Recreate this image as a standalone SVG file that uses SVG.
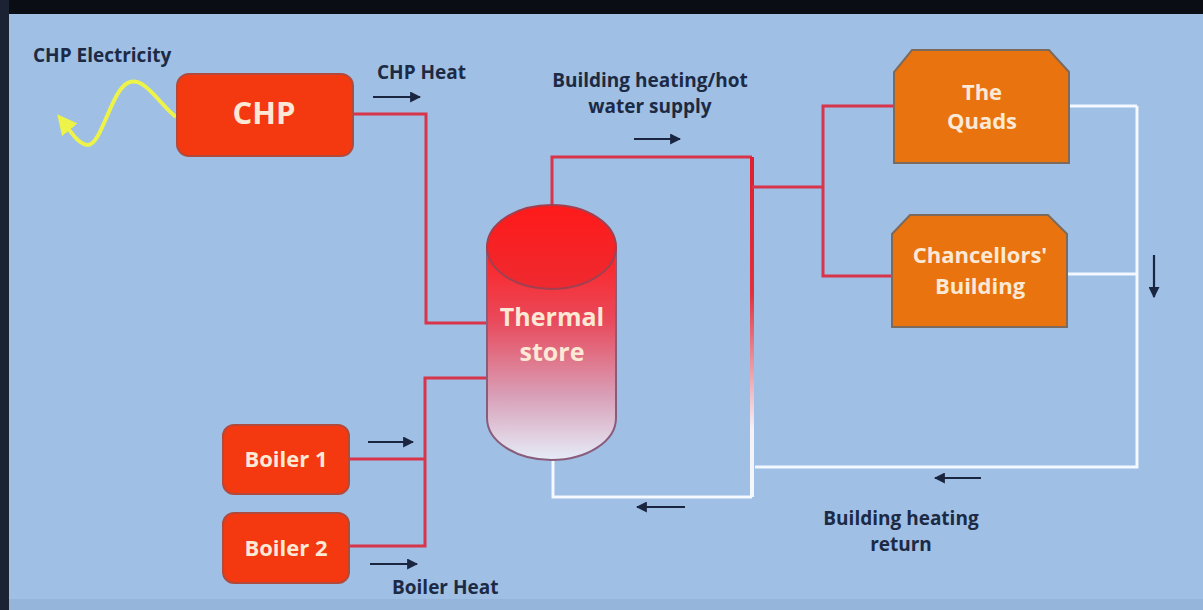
<svg xmlns="http://www.w3.org/2000/svg" width="1203" height="610" viewBox="0 0 1203 610">
<defs>
<style>
.lbl{font-family:"Open Sans","Liberation Sans",sans-serif;font-weight:bold;fill:#1c2a44;font-size:19px}
.ntx{font-family:"Open Sans","Liberation Sans",sans-serif;font-weight:bold;fill:#fbe9d6;text-anchor:middle}
.red{fill:none;stroke:#d8344a;stroke-width:3}
.wht{fill:none;stroke:#f4f8ff;stroke-width:3}
.arr{stroke:#1a2540;stroke-width:2.2;marker-end:url(#ah)}
.box{fill:#f4380f;stroke:#b24a3c;stroke-width:2}
.bld{fill:#e8730f;stroke:#7c6a5c;stroke-width:2}
</style>
<marker id="ah" viewBox="0 0 10 10" refX="9" refY="5" markerWidth="5" markerHeight="5" orient="auto" markerUnits="strokeWidth">
<path d="M0,0 L10,5 L0,10 z" fill="#1a2540"/>
</marker>
<marker id="yh" viewBox="0 0 10 10" refX="7" refY="5" markerWidth="5" markerHeight="5" orient="auto" markerUnits="strokeWidth">
<path d="M0,0 L10,5 L0,10 z" fill="#eef34a"/>
</marker>
<linearGradient id="tank" x1="0" y1="0" x2="0" y2="1">
<stop offset="0" stop-color="#ff2020"/>
<stop offset="0.35" stop-color="#e84a5c"/>
<stop offset="0.7" stop-color="#d8a0b8"/>
<stop offset="1" stop-color="#e6ecf8"/>
</linearGradient>
<linearGradient id="lid" x1="0" y1="0" x2="0" y2="1">
<stop offset="0" stop-color="#ff1a1a"/>
<stop offset="1" stop-color="#ee2a30"/>
</linearGradient>
<linearGradient id="vline" gradientUnits="userSpaceOnUse" x1="0" y1="157" x2="0" y2="497">
<stop offset="0" stop-color="#e0202e"/>
<stop offset="0.4" stop-color="#e0303e"/>
<stop offset="0.8" stop-color="#f4f0f8"/>
<stop offset="1" stop-color="#f4f8ff"/>
</linearGradient>
</defs>
<rect x="0" y="0" width="1203" height="610" fill="#9fbfe4"/>
<rect x="0" y="0" width="1203" height="14" fill="#0a0d14"/>
<rect x="0" y="0" width="9" height="610" fill="#1a2233"/>
<rect x="9" y="599" width="1194" height="11" fill="#96b5da"/>

<g id="connectors">
<path class="red" d="M353,114 H426 V323 H487"/>
<path class="red" d="M349,459 H425 M349,546 H425 V378 H487"/>
<path class="red" d="M552,205 V157 H752"/>
<path d="M752,157 V497" fill="none" stroke="url(#vline)" stroke-width="4"/>
<path class="red" d="M752,187 H823 M894,106 H823 V276 H892"/>
<path class="wht" d="M1069,106 H1137 M1067,274 H1137 M1137,106 V467 H755"/>
<path class="wht" d="M752,497 H553 V460"/>
<path d="M176,117 C160,105 146,78 130,82 C112,86 102,145 88,145 C78,145 70,130 61,119" fill="none" stroke="#eef34a" stroke-width="4" marker-end="url(#yh)"/>
<line class="arr" x1="373" y1="97" x2="420" y2="97"/>
<line class="arr" x1="634" y1="139" x2="680" y2="139"/>
<line class="arr" x1="368" y1="442" x2="413" y2="442"/>
<line class="arr" x1="370" y1="564" x2="417" y2="564"/>
<line class="arr" x1="685" y1="507" x2="637" y2="507"/>
<line class="arr" x1="981" y1="478" x2="935" y2="478"/>
<line class="arr" x1="1154" y1="255" x2="1154" y2="297"/>
</g>

<g id="labels">
<text class="lbl" x="33" y="62">CHP Electricity</text>
<text class="lbl" x="377" y="79">CHP Heat</text>
<text class="lbl" x="650" y="87" text-anchor="middle">Building heating/hot</text>
<text class="lbl" x="650" y="113" text-anchor="middle">water supply</text>
<text class="lbl" x="392" y="594">Boiler Heat</text>
<text class="lbl" x="901" y="525" text-anchor="middle">Building heating</text>
<text class="lbl" x="901" y="551" text-anchor="middle">return</text>
</g>

<g id="chp">
<rect class="box" x="177" y="74" width="176" height="82" rx="12"/>
<text class="ntx" x="264" y="124" font-size="31">CHP</text>
</g>

<g id="boiler1">
<rect class="box" x="223" y="425" width="126" height="69" rx="11"/>
<text class="ntx" x="286" y="467" font-size="22">Boiler 1</text>
</g>

<g id="boiler2">
<rect class="box" x="223" y="513" width="126" height="70" rx="11"/>
<text class="ntx" x="286" y="556" font-size="22">Boiler 2</text>
</g>

<g id="thermal-store">
<path d="M487,247 V418 A64.5,42 0 0 0 616,418 V247 Z" fill="url(#tank)" stroke="#8a5c7c" stroke-width="2"/>
<ellipse cx="551.5" cy="247" rx="64.5" ry="42" fill="url(#lid)" stroke="#a04050" stroke-width="2"/>
<text class="ntx" x="552" y="326" font-size="25" fill="#fff3f3">Thermal</text>
<text class="ntx" x="552" y="361" font-size="25">store</text>
</g>

<g id="quads">
<path class="bld" d="M912,50 H1049 L1069,72 V163 H894 V72 Z"/>
<text class="ntx" x="982" y="100" font-size="22">The</text>
<text class="ntx" x="982" y="129" font-size="22">Quads</text>
</g>

<g id="chancellors">
<path class="bld" d="M910,215 H1048 L1067,234 V327 H892 V234 Z"/>
<text class="ntx" x="980" y="263" font-size="22">Chancellors'</text>
<text class="ntx" x="980" y="294" font-size="22">Building</text>
</g>
</svg>
